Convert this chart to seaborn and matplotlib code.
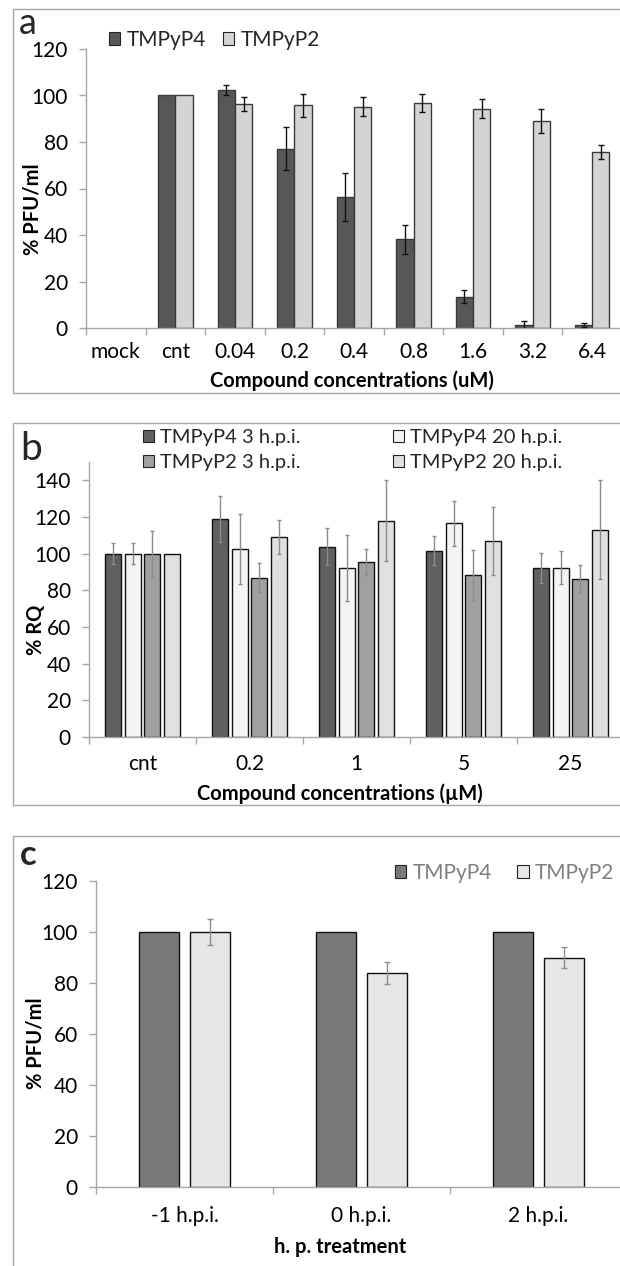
import numpy as np
import pandas as pd
import seaborn as sns
import matplotlib
matplotlib.use("Agg")
import matplotlib.pyplot as plt
from matplotlib.patches import Rectangle, Patch

# ---------------- data ----------------
a_cats = ["mock", "cnt", "0.04", "0.2", "0.4", "0.8", "1.6", "3.2", "6.4"]
a_series = ["TMPyP4", "TMPyP2"]
a_tmpyp4 = [np.nan, 100, 102.4, 77.2, 56.3, 38.2, 13.4, 1.2, 1.2]
a_tmpyp4_err = [0, 0, 2.0, 9.2, 10.2, 6.3, 2.8, 2.0, 0.9]
a_tmpyp2 = [np.nan, 100, 96.4, 95.7, 95.2, 96.7, 94.4, 88.9, 75.8]
a_tmpyp2_err = [0, 0, 3.0, 5.0, 4.0, 4.0, 4.0, 5.2, 3.0]
a_yticks = [0, 20, 40, 60, 80, 100, 120]

b_cats = ["cnt", "0.2", "1", "5", "25"]
b_series = ["TMPyP4 3 h.p.i.", "TMPyP4 20 h.p.i.", "TMPyP2 3 h.p.i.", "TMPyP2 20 h.p.i."]
b_p4_3 = [100, 118.9, 103.9, 101.7, 92.4]
b_p4_3_err = [5.9, 12.3, 10.3, 7.8, 8.2]
b_p4_20 = [100, 102.4, 92.4, 116.5, 92.4]
b_p4_20_err = [5.9, 19.2, 18.0, 12.5, 8.9]
b_p2_3 = [100, 86.9, 95.5, 88.1, 86.3]
b_p2_3_err = [12.5, 8.0, 7.0, 14.0, 7.5]
b_p2_20 = [100, 109.2, 118.0, 107.0, 113.1]
b_p2_20_err = [0, 9.3, 22.2, 18.6, 27.0]
b_yticks = [0, 20, 40, 60, 80, 100, 120, 140]

c_cats = ["-1 h.p.i.", "0 h.p.i.", "2 h.p.i."]
c_series = ["TMPyP4", "TMPyP2"]
c_tmpyp4 = [100, 100, 100]
c_tmpyp4_err = [0, 0, 0]
c_tmpyp2 = [100, 84.1, 90.0]
c_tmpyp2_err = [5.0, 4.3, 4.0]
c_yticks = [0, 20, 40, 60, 80, 100, 120]

# ---------------- style ----------------
W, H = 620, 1266
DPI = 100
sns.set_theme(style="white")
plt.rcParams['font.family'] = ['Lato', 'DejaVu Sans']
AXC = "#a6a6a6"
TICK_FS = 15
LAB_FS = 14.5

fig = plt.figure(figsize=(W / DPI, H / DPI), dpi=DPI)


def fx(px):
    return px / W


def fy(py):
    return 1 - py / H


def make_ax(left, right, top, bottom):
    return fig.add_axes([fx(left), fy(bottom), (right - left) / W, (bottom - top) / H])


def frame(top, bottom):
    fig.patches.append(Rectangle((fx(13), fy(bottom)), 1.2, (bottom - top) / H,
                                 transform=fig.transFigure, fill=False,
                                 edgecolor=AXC, linewidth=1.0, zorder=0))


def style_axis(ax, n, ylim, yticks, xpad):
    ax.set_xlim(-0.5, n - 0.5)
    ax.set_ylim(*ylim)
    ax.set_yticks(yticks)
    for s in ["top", "right"]:
        ax.spines[s].set_visible(False)
    for s in ["left", "bottom"]:
        ax.spines[s].set_color(AXC)
        ax.spines[s].set_linewidth(1.0)
    ax.set_xticks(np.arange(-0.5, n + 0.5, 1.0), minor=True)
    ax.tick_params(axis="x", which="major", length=0, pad=xpad, labelsize=TICK_FS, colors="black")
    ax.tick_params(axis="x", which="minor", length=5, width=1, color=AXC, direction="out", bottom=True)
    ax.tick_params(axis="y", which="major", length=5, width=1, color=AXC, direction="out",
                   left=True, pad=8, labelsize=TICK_FS, labelcolor="black")
    ax.set_facecolor("none")


def add_errors(ax, err_lists, color, lw, capsize):
    for cont, errs in zip(ax.containers, err_lists):
        for bar in cont:
            h = bar.get_height()
            if h is None or np.isnan(h):
                continue
            xc = bar.get_x() + bar.get_width() / 2
            idx = int(round(xc))
            e = errs[idx]
            if e > 0:
                ax.errorbar(xc, h, yerr=e, fmt="none", ecolor=color, elinewidth=lw,
                            capsize=capsize, capthick=lw, zorder=5)


def labels(ax, xl, xlx, xly, yl, ylx, yly, fs=LAB_FS):
    ax.set_xlabel(xl, fontsize=fs, fontweight="bold", color="black")
    ax.set_ylabel(yl, fontsize=fs, fontweight="bold", color="black")
    ax.xaxis.set_label_coords(xlx, xly)
    ax.yaxis.set_label_coords(ylx, yly)
    ax.xaxis.label.set_va("center")
    ax.yaxis.label.set_va("center")
    ax.yaxis.label.set_ha("center")


# ---------------- panel a ----------------
frame(9, 393)
ax_a = make_ax(86, 622, 49, 328)
df_a = pd.DataFrame({
    "cat": a_cats * 2,
    "series": [a_series[0]] * len(a_cats) + [a_series[1]] * len(a_cats),
    "val": a_tmpyp4 + a_tmpyp2,
})
pal_a = {"TMPyP4": "#575757", "TMPyP2": "#d4d4d4"}
sns.barplot(data=df_a, x="cat", y="val", hue="series", order=a_cats, hue_order=a_series,
            palette=pal_a, width=0.58, errorbar=None, edgecolor="#3a3a3a", linewidth=1.0,
            legend=False, ax=ax_a, saturation=1)
style_axis(ax_a, len(a_cats), (0, 120), a_yticks, xpad=10)
add_errors(ax_a, [a_tmpyp4_err, a_tmpyp2_err], "#111111", 1.0, 2.2)
labels(ax_a, "Compound concentrations (uM)", 0.496, -0.19, "% PFU/ml", -0.099, 0.427)
h_a = [Patch(facecolor=pal_a[s], edgecolor="#222222", linewidth=0.8) for s in a_series]
fig.legend(h_a, a_series, loc="center left", bbox_to_anchor=(fx(109), fy(40)),
           bbox_transform=fig.transFigure, ncol=2, frameon=False, fontsize=15,
           handlelength=0.55, handleheight=0.55, handletextpad=0.3, columnspacing=0.8,
           borderpad=0, borderaxespad=0)
fig.text(fx(19), fy(34), "a", fontsize=26, va="baseline", ha="left")

# ---------------- panel b ----------------
frame(423, 805)
ax_b = make_ax(89, 624, 462, 737)
df_b = pd.DataFrame({
    "cat": b_cats * 4,
    "series": sum([[s] * len(b_cats) for s in b_series], []),
    "val": b_p4_3 + b_p4_20 + b_p2_3 + b_p2_20,
})
pal_b = dict(zip(b_series, ["#606060", "#f4f4f4", "#a0a0a0", "#e0e0e0"]))
sns.barplot(data=df_b, x="cat", y="val", hue="series", order=b_cats, hue_order=b_series,
            palette=pal_b, width=0.73, gap=0.18, errorbar=None, edgecolor="#111111",
            linewidth=1.0, legend=False, ax=ax_b, saturation=1)
style_axis(ax_b, len(b_cats), (0, 150), b_yticks, xpad=12)
add_errors(ax_b, [b_p4_3_err, b_p4_20_err, b_p2_3_err, b_p2_20_err], "#8c8c8c", 1.0, 1.6)
labels(ax_b, "Compound concentrations (µM)", 0.469, -0.206, "% RQ", -0.099, 0.39)
h_b = [Patch(facecolor=pal_b[s], edgecolor="#222222", linewidth=0.8) for s in b_series]
order_b = [0, 2, 1, 3]
fig.legend([h_b[i] for i in order_b], [b_series[i] for i in order_b], loc="center left",
           bbox_to_anchor=(fx(143), fy(450)), bbox_transform=fig.transFigure, ncol=2,
           frameon=False, fontsize=14.5, handlelength=0.55, handleheight=0.55,
           handletextpad=0.3, columnspacing=4.6, labelspacing=0.42,
           borderpad=0, borderaxespad=0)
fig.text(fx(20), fy(460), "b", fontsize=28, va="baseline", ha="left")

# ---------------- panel c ----------------
frame(836, 1300)
ax_c = make_ax(96, 627, 881, 1187)
df_c = pd.DataFrame({
    "cat": c_cats * 2,
    "series": [c_series[0]] * len(c_cats) + [c_series[1]] * len(c_cats),
    "val": c_tmpyp4 + c_tmpyp2,
})
pal_c = {"TMPyP4": "#7a7a7a", "TMPyP2": "#e6e6e6"}
sns.barplot(data=df_c, x="cat", y="val", hue="series", order=c_cats, hue_order=c_series,
            palette=pal_c, width=0.57, gap=0.21, errorbar=None, edgecolor="#111111",
            linewidth=1.0, legend=False, ax=ax_c, saturation=1)
style_axis(ax_c, len(c_cats), (0, 120), c_yticks, xpad=14)
add_errors(ax_c, [c_tmpyp4_err, c_tmpyp2_err], "#8c8c8c", 1.0, 2.2)
labels(ax_c, "h. p. treatment", 0.46, -0.195, "% PFU/ml", -0.113, 0.47)
h_c = [Patch(facecolor=pal_c[s], edgecolor="#222222", linewidth=0.8) for s in c_series]
fig.legend(h_c, c_series, loc="center left", bbox_to_anchor=(fx(395), fy(873)),
           bbox_transform=fig.transFigure, ncol=2, frameon=False, fontsize=15,
           handlelength=0.55, handleheight=0.55, handletextpad=0.3, columnspacing=1.2,
           borderpad=0, borderaxespad=0, labelcolor="#7f7f7f")
fig.text(fx(20), fy(865), "c", fontsize=25, fontweight="bold", va="baseline", ha="left")

fig.savefig("out.png", dpi=DPI, facecolor="white")
